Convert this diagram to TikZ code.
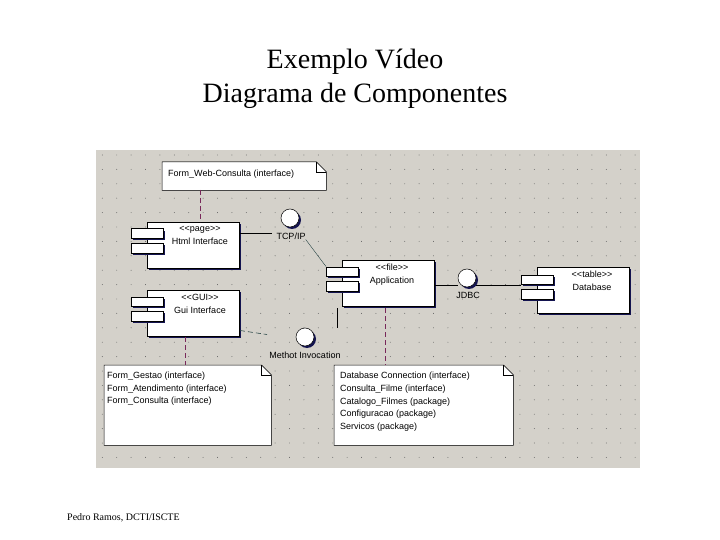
\documentclass[tikz,border=0pt]{standalone}
\usepackage{fontspec}
\setmainfont{Liberation Serif}
\newfontfamily\diagfont{Liberation Sans}
\usetikzlibrary{shadows}
\definecolor{panel}{RGB}{212,209,202}
\definecolor{griddot}{RGB}{90,90,90}
\definecolor{shade}{RGB}{20,20,80}
\definecolor{depline}{RGB}{120,40,90}
\definecolor{dotline}{RGB}{40,70,70}
\newcommand\drawnote[1]{%
  \fill[shade,shift={(2pt,-2pt)}] (#1.north west) -- ([xshift=-10pt]#1.north east) -- ([yshift=-10pt]#1.north east) -- (#1.south east) -- (#1.south west) -- cycle;
  \draw[fill=white,line width=0.5pt] (#1.north west) -- ([xshift=-10pt]#1.north east) -- ([yshift=-10pt]#1.north east) -- (#1.south east) -- (#1.south west) -- cycle;
  \draw[line width=0.5pt] ([xshift=-10pt]#1.north east) -- ([xshift=-10pt,yshift=-10pt]#1.north east) -- ([yshift=-10pt]#1.north east);}
\begin{document}
\begin{tikzpicture}[x=1pt,y=-1pt,
  every node/.style={font=\diagfont\fontsize{9}{13}\selectfont},
  sh/.style={general shadow={shadow xshift=2pt,shadow yshift=-2pt,fill=shade}},
  comp/.style={draw=black,fill=white,line width=0.5pt,minimum width=92pt,minimum height=46pt,inner sep=0pt,anchor=north west,sh},
  port/.style={draw=black,fill=white,line width=0.5pt,minimum width=32pt,minimum height=9.5pt,inner sep=0pt,anchor=north west,sh},
  iface/.style={circle,draw=black,fill=white,line width=0.5pt,minimum size=18pt,inner sep=0pt,sh},
  notebody/.style={minimum width=#1,inner sep=0pt,anchor=north west},
  txt/.style={inner sep=0pt,anchor=north},
  ltxt/.style={inner sep=0pt,anchor=north west},
  dep/.style={depline,dashed,dash pattern=on 5pt off 3pt,line width=0.6pt},
  conn/.style={black,line width=0.6pt}]
\useasboundingbox (0,0) rectangle (720,540);
% titles
\node[font=\fontsize{28}{32}\selectfont,inner sep=0pt] (t1) at (355,62) {Exemplo Vídeo};
\node[font=\fontsize{28}{32}\selectfont,inner sep=0pt] (t2) at (355,96) {Diagrama de Componentes};
\node[font=\rmfamily\fontsize{10}{12}\selectfont,inner sep=0pt,anchor=west] (foot) at (67,518) {Pedro Ramos, DCTI/ISCTE};
% panel
\fill[panel] (96,150) rectangle (640,468);
\foreach \i in {0,...,37} {\foreach \j in {0,...,21} {\fill[griddot] (102.3+14.4*\i,155+14.4*\j) circle (0.45pt);}}
% notes
\node[notebody=164pt,minimum height=28pt] (n1) at (162,162) {};
\drawnote{n1}
\node[ltxt] (n1t) at (168,170) {Form\_Web-Consulta (interface)};
\node[notebody=167pt,minimum height=80pt] (n3) at (104,365) {};
\drawnote{n3}
\node[ltxt,align=left,font=\diagfont\fontsize{9}{12.6}\selectfont] (n3t) at (107,372) {Form\_Gestao (interface)\\Form\_Atendimento (interface)\\Form\_Consulta (interface)};
\node[notebody=179pt,minimum height=80pt] (n2) at (334,365) {};
\drawnote{n2}
\node[ltxt,align=left,font=\diagfont\fontsize{9}{12.7}\selectfont] (n2t) at (340,372) {Database Connection (interface)\\Consulta\_Filme (interface)\\Catalogo\_Filmes (package)\\Configuracao (package)\\Servicos (package)};
% components
\node[comp] (html) at (147,222) {};
\node[port] (htmlp1) at (131,228.5) {};
\node[port] (htmlp2) at (131,243) {};
\node[txt,align=center] (htmlt) at (200,226) {<<page>>\\Html Interface};
\node[comp] (gui) at (147,290) {};
\node[port] (guip1) at (131,296.5) {};
\node[port] (guip2) at (131,311) {};
\node[txt,align=center] (guit) at (200,294) {<<GUI>>\\Gui Interface};
\node[comp] (app) at (342,260) {};
\node[port] (appp1) at (326,266.5) {};
\node[port] (appp2) at (326,281) {};
\node[txt,align=center] (appt) at (392,264) {<<file>>\\Application};
\node[comp] (db) at (537,267) {};
\node[port] (dbp1) at (521,274.5) {};
\node[port] (dbp2) at (521,289) {};
\node[txt,align=center] (dbt) at (592,271) {<<table>>\\Database};
% interfaces
\node[iface] (tcp) at (290,218) {};
\node[txt] (tcpl) at (291,232.5) {TCP/IP};
\node[iface] (jdbc) at (467,278) {};
\node[txt] (jdbcl) at (468,292.5) {JDBC};
\node[iface] (mi) at (305,337) {};
\node[txt] (mil) at (305,352) {Methot Invocation};
% connectors
\coordinate (c1) at (272,233.5);
\draw[conn] (html.east |- c1) -- (c1);
\draw[dotline,line width=0.4pt] (tcpl.south east) -- (appp1.north west);
\draw[conn] (app.east |- 0,285) -- (jdbc.west |- 0,285);
\draw[conn] (jdbc.east |- 0,285) -- (dbp1.west |- 0,285);
\coordinate (c2) at (267,334.5);
\draw[dotline,dashed,dash pattern=on 5pt off 3pt,line width=0.6pt] (240,330.5) -- (c2);
\coordinate (c3) at (337,328);
\draw[conn] (337,308) -- (c3);
\draw[dep] (200,190) -- (200,222);
\draw[dep] (185,337) -- (185,365);
\draw[dep] (385,308) -- (385,365);
\end{tikzpicture}
\end{document}
